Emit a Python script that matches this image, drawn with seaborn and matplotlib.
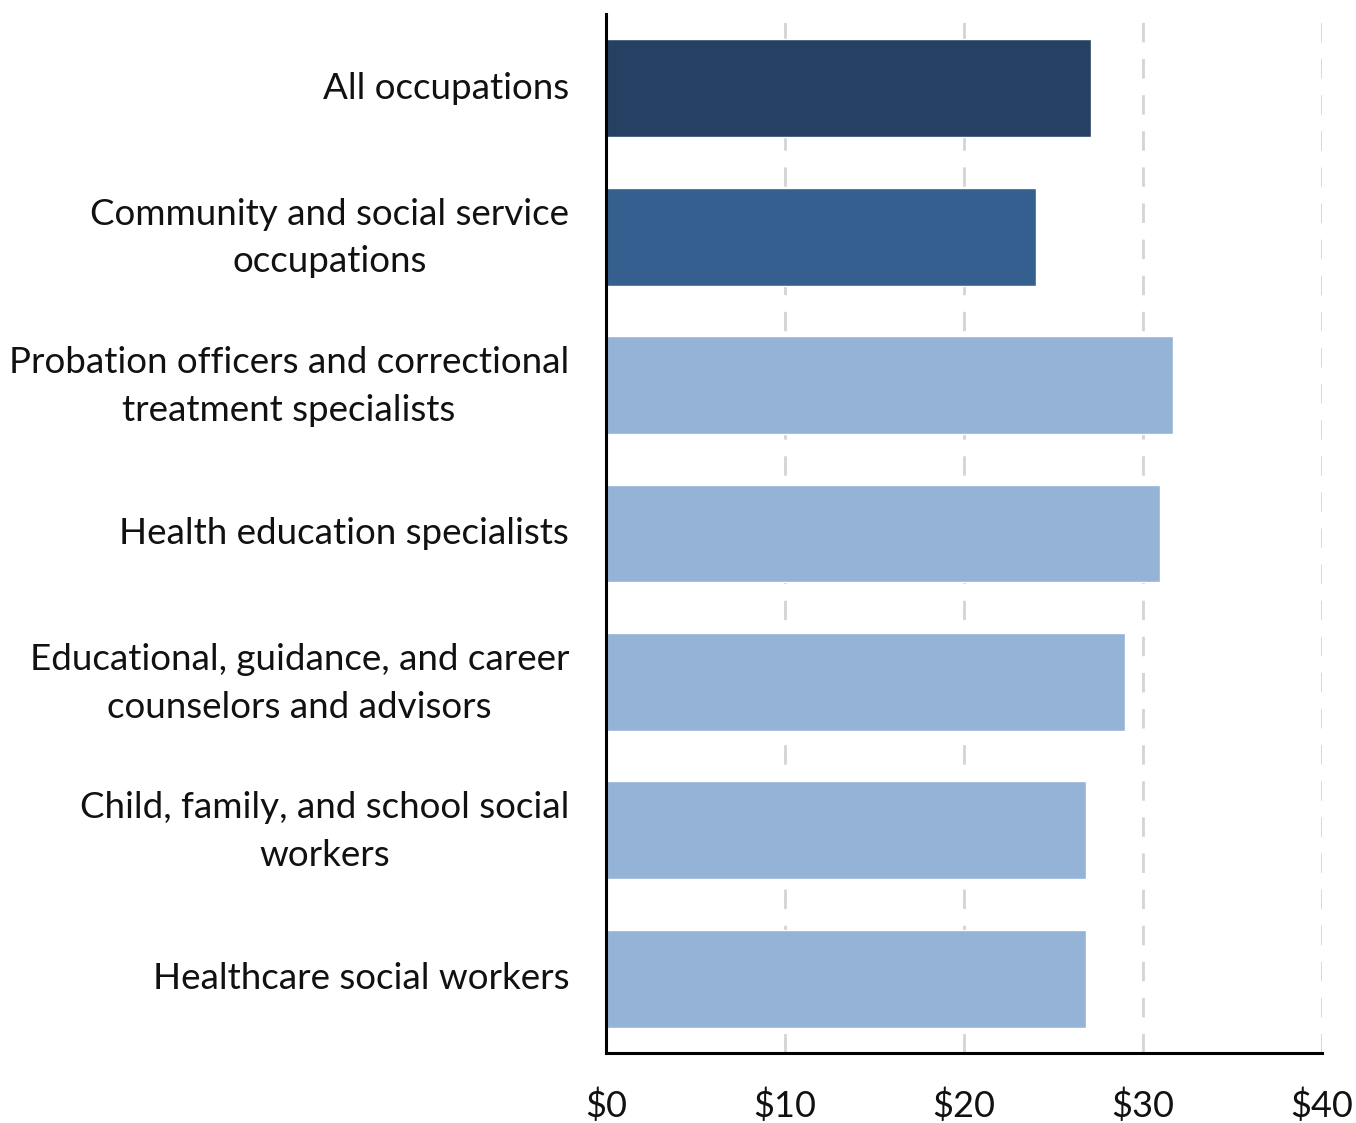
import matplotlib
matplotlib.use("Agg")
import matplotlib.pyplot as plt
import matplotlib.transforms as mtransforms
import seaborn as sns
import pandas as pd

categories = [
    "All occupations",
    "Community and social service\noccupations",
    "Probation officers and correctional\ntreatment specialists",
    "Health education specialists",
    "Educational, guidance, and career\ncounselors and advisors",
    "Child, family, and school social\nworkers",
    "Healthcare social workers",
]
wages = [27.1, 24.0, 31.7, 30.95, 29.0, 26.8, 26.8]
bar_colors = ["#264063", "#355F8F", "#95B3D7", "#95B3D7", "#95B3D7", "#95B3D7", "#95B3D7"]
xticks = [0, 10, 20, 30, 40]
xtick_labels = ["$0", "$10", "$20", "$30", "$40"]

sns.set_theme(style="white")
plt.rcParams['font.family'] = ['Lato', 'DejaVu Sans']

df = pd.DataFrame({"category": categories, "wage": wages})

fig = plt.figure(figsize=(13.56, 11.23), dpi=100)
ax = fig.add_axes([606/1356, 1 - 1053/1123, (1322-606)/1356, (1053-14)/1123])

sns.barplot(data=df, x="wage", y="category", hue="category", palette=bar_colors,
            order=categories, hue_order=categories, width=0.66, legend=False,
            saturation=1, ax=ax, zorder=2)

ax.set_xlim(0, 40)
ax.set_ylim(6.5, -0.5)
ax.set_xticks(xticks)
ax.set_xticklabels(xtick_labels, fontsize=26, color="#111111")
ax.set_xlabel("")
ax.set_ylabel("")

for x in xticks[1:]:
    ax.axvline(x, color="#D4D4D4", linewidth=2, linestyle=(0, (7, 6)), zorder=1)

ax.tick_params(axis="y", length=0, pad=26.5)
ax.tick_params(axis="x", length=9.5, width=2.2, color="black", direction="out", pad=16)

for t in ax.get_yticklabels():
    t.set_multialignment("center")
    t.set_linespacing(1.55)
    t.set_fontsize(26.5)
    t.set_color("#111111")
    dy = 0.09 if "\n" in t.get_text() else 0.03
    t.set_transform(t.get_transform() + mtransforms.ScaledTranslation(0, dy, fig.dpi_scale_trans))

for s in ["top", "right"]:
    ax.spines[s].set_visible(False)
for s in ["left", "bottom"]:
    ax.spines[s].set_color("black")
    ax.spines[s].set_linewidth(2.2)
    ax.spines[s].set_zorder(3)

fig.savefig("out.png", dpi=100)
